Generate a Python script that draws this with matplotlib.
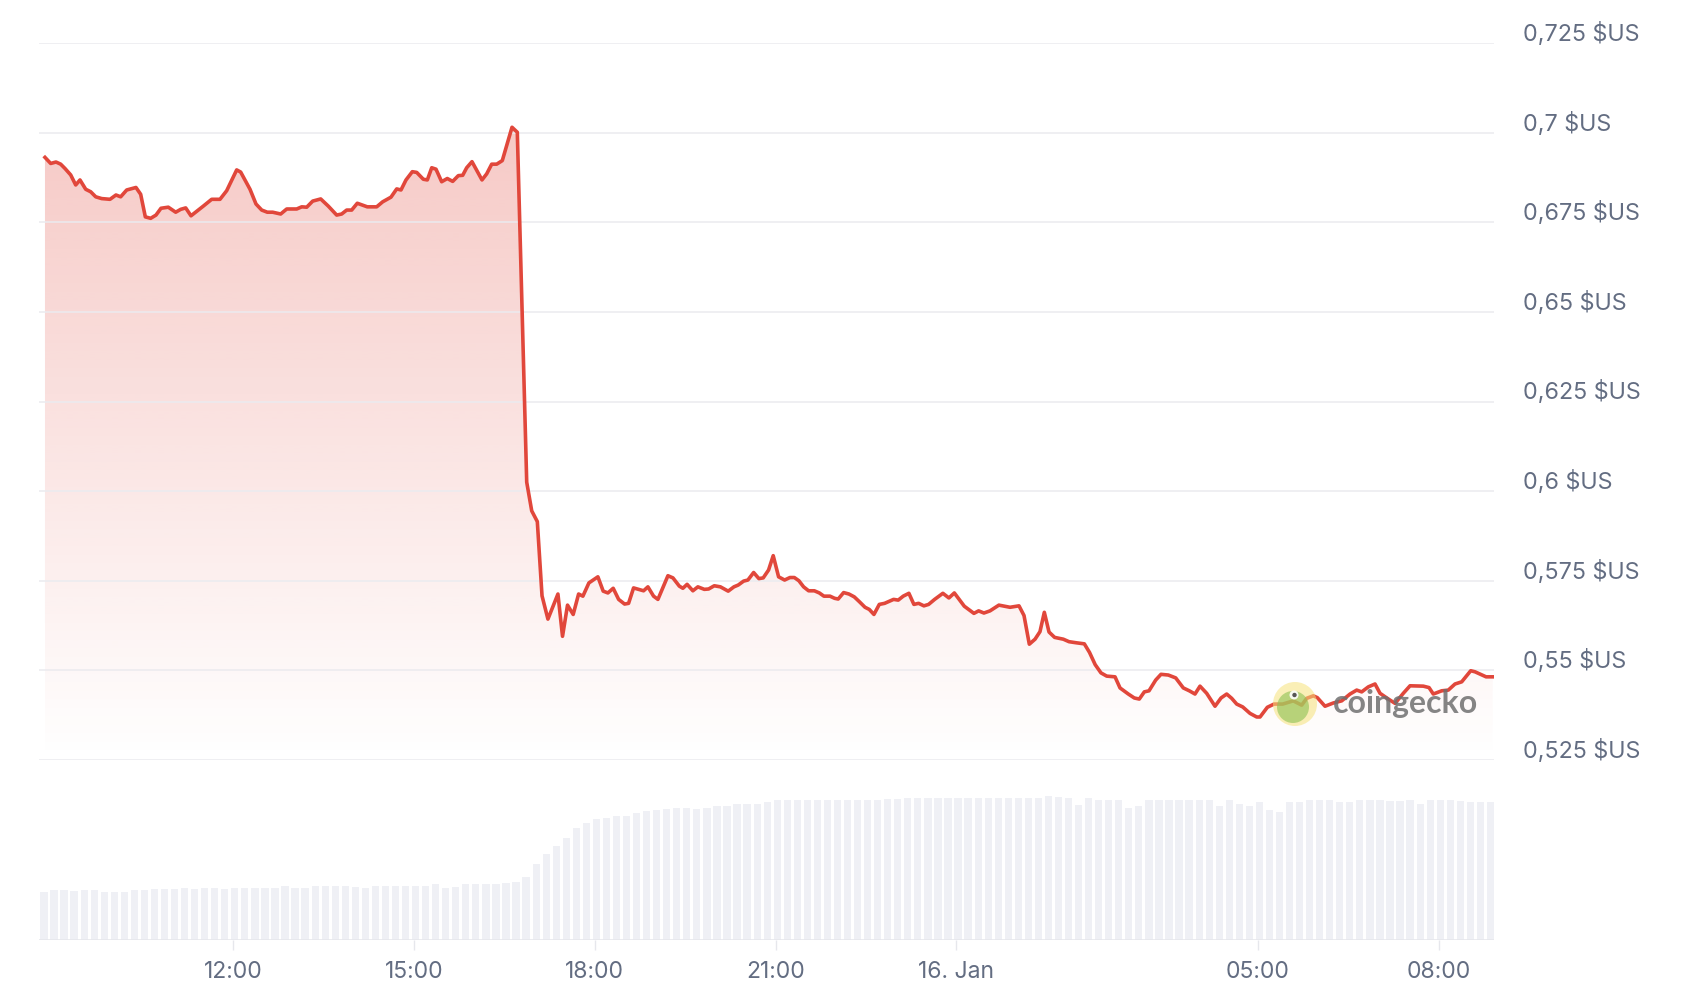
import numpy as np
import matplotlib.pyplot as plt
import matplotlib.colors as mcolors
from matplotlib.patches import Circle
from matplotlib.transforms import ScaledTranslation

# prix (heures depuis le 15 janv. 00:00)
heures = [8.877, 8.972, 9.060, 9.138, 9.209, 9.304, 9.387, 9.458, 9.553, 9.636,
          9.719, 9.818, 9.956, 10.055, 10.133, 10.233, 10.387, 10.465, 10.542, 10.631,
          10.719, 10.802, 10.923, 11.046, 11.129, 11.212, 11.300, 11.504, 11.643, 11.781,
          11.892, 12.058, 12.124, 12.279, 12.378, 12.473, 12.566, 12.655, 12.788, 12.888,
          13.054, 13.137, 13.220, 13.319, 13.452, 13.578, 13.717, 13.800, 13.883, 13.966,
          14.059, 14.225, 14.381, 14.480, 14.618, 14.713, 14.784, 14.867, 14.972, 15.045,
          15.154, 15.221, 15.294, 15.365, 15.459, 15.552, 15.642, 15.735, 15.808, 15.874,
          15.962, 16.128, 16.206, 16.289, 16.372, 16.465, 16.626, 16.714, 16.870, 16.953,
          17.046, 17.124, 17.222, 17.388, 17.464, 17.547, 17.641, 17.731, 17.802, 17.902,
          18.051, 18.139, 18.217, 18.305, 18.395, 18.494, 18.560, 18.643, 18.809, 18.881,
          18.975, 19.047, 19.213, 19.296, 19.402, 19.461, 19.531, 19.627, 19.710, 19.817,
          19.888, 19.982, 20.084, 20.213, 20.308, 20.379, 20.469, 20.540, 20.635, 20.722,
          20.794, 20.883, 20.960, 21.049, 21.149, 21.238, 21.310, 21.386, 21.464, 21.547,
          21.642, 21.725, 21.801, 21.902, 21.979, 22.038, 22.128, 22.216, 22.305, 22.393,
          22.483, 22.554, 22.631, 22.720, 22.808, 22.957, 23.034, 23.117, 23.211, 23.294,
          23.372, 23.460, 23.538, 23.638, 23.775, 23.875, 23.965, 24.130, 24.290, 24.368,
          24.456, 24.557, 24.704, 24.889, 25.038, 25.121, 25.209, 25.304, 25.386, 25.458,
          25.536, 25.629, 25.773, 25.868, 25.987, 26.122, 26.208, 26.302, 26.398, 26.493,
          26.631, 26.714, 26.852, 26.951, 27.034, 27.117, 27.195, 27.306, 27.394, 27.515,
          27.638, 27.764, 27.864, 27.958, 28.041, 28.152, 28.290, 28.390, 28.484, 28.567,
          28.650, 28.750, 28.871, 28.982, 29.037, 29.158, 29.269, 29.413, 29.589, 29.728,
          29.811, 29.921, 29.987, 30.115, 30.253, 30.392, 30.530, 30.641, 30.724, 30.834,
          30.945, 31.028, 31.149, 31.277, 31.414, 31.526, 31.746, 31.841, 31.912, 32.051,
          32.161, 32.272, 32.383, 32.533, 32.604, 32.787, 32.898]

prix = [0.6931, 0.6914, 0.6918, 0.6912, 0.6900, 0.6882, 0.6854, 0.6868, 0.6842, 0.6835,
        0.6821, 0.6816, 0.6814, 0.6826, 0.6821, 0.6840, 0.6847, 0.6828, 0.6765, 0.6761,
        0.6770, 0.6789, 0.6792, 0.6778, 0.6786, 0.6790, 0.6768, 0.6795, 0.6814, 0.6814,
        0.6838, 0.6896, 0.6890, 0.6842, 0.6801, 0.6784, 0.6778, 0.6778, 0.6773, 0.6787,
        0.6787, 0.6793, 0.6792, 0.6809, 0.6815, 0.6795, 0.6770, 0.6773, 0.6784, 0.6784,
        0.6803, 0.6793, 0.6793, 0.6807, 0.6820, 0.6843, 0.6840, 0.6868, 0.6891, 0.6889,
        0.6870, 0.6868, 0.6902, 0.6898, 0.6863, 0.6872, 0.6864, 0.6880, 0.6881, 0.6902,
        0.6919, 0.6868, 0.6885, 0.6912, 0.6912, 0.6922, 0.7015, 0.7001, 0.6025, 0.5945,
        0.5915, 0.5708, 0.5643, 0.5713, 0.5595, 0.5682, 0.5656, 0.5713, 0.5707, 0.5744,
        0.5761, 0.5721, 0.5716, 0.5729, 0.5698, 0.5685, 0.5687, 0.5730, 0.5722, 0.5733,
        0.5707, 0.5698, 0.5764, 0.5758, 0.5735, 0.5729, 0.5740, 0.5722, 0.5733, 0.5726,
        0.5727, 0.5736, 0.5733, 0.5721, 0.5733, 0.5738, 0.5749, 0.5752, 0.5773, 0.5756,
        0.5758, 0.5780, 0.5820, 0.5761, 0.5752, 0.5759, 0.5759, 0.5750, 0.5733, 0.5722,
        0.5722, 0.5716, 0.5707, 0.5707, 0.5701, 0.5699, 0.5717, 0.5713, 0.5705, 0.5691,
        0.5676, 0.5670, 0.5656, 0.5684, 0.5687, 0.5698, 0.5696, 0.5707, 0.5715, 0.5684,
        0.5687, 0.5680, 0.5684, 0.5698, 0.5715, 0.5702, 0.5716, 0.5679, 0.5659, 0.5666,
        0.5660, 0.5666, 0.5682, 0.5676, 0.5680, 0.5653, 0.5573, 0.5587, 0.5608, 0.5662,
        0.5607, 0.5592, 0.5587, 0.5580, 0.5577, 0.5574, 0.5550, 0.5516, 0.5493, 0.5484,
        0.5482, 0.5451, 0.5434, 0.5423, 0.5420, 0.5440, 0.5443, 0.5473, 0.5489, 0.5487,
        0.5479, 0.5451, 0.5443, 0.5434, 0.5456, 0.5436, 0.5400, 0.5423, 0.5434, 0.5422,
        0.5406, 0.5398, 0.5380, 0.5370, 0.5370, 0.5397, 0.5406, 0.5406, 0.5415, 0.5403,
        0.5422, 0.5429, 0.5424, 0.5400, 0.5409, 0.5415, 0.5434, 0.5445, 0.5440, 0.5454,
        0.5462, 0.5436, 0.5422, 0.5408, 0.5436, 0.5457, 0.5456, 0.5452, 0.5434, 0.5443,
        0.5445, 0.5462, 0.5468, 0.5499, 0.5496, 0.5482, 0.5482]

# volume, une barre toutes les 10 minutes (unites relatives)
vol_debut = 8.80
volume = [48, 50, 50, 49, 50, 50, 48, 48.5, 48.5, 50, 50, 51, 51, 51, 52, 51, 52, 52, 51, 52,
          52, 52, 52, 52, 54, 52, 52, 54, 54, 54, 54, 53, 52, 54, 54, 54, 54, 54, 54, 56,
          52, 53, 56, 56,
          56, 56, 57, 58, 63, 76, 86, 94, 102, 112, 117, 121, 122, 124, 124, 127, 129, 130, 131, 132,
          132, 131, 132, 134, 134,
          136, 136, 136, 138, 140, 140, 140, 140, 140, 140, 140, 140, 140, 140, 140, 141, 141,
          142, 142, 142, 142, 142, 142, 142, 142, 142, 142, 142, 142, 142, 142,
          144, 143, 142, 135, 142, 140, 140, 140, 132, 134, 140, 140, 140, 140, 140, 140, 140,
          134, 140, 136, 134, 138, 130, 128, 138,
          138, 140, 140, 140, 138, 138, 140, 140, 140, 139, 139, 140, 136, 140, 140, 140, 139,
          138, 138, 138]

ticks_x = [12, 15, 18, 21, 24, 29, 32]
noms_x = ['12:00', '15:00', '18:00', '21:00', '16. Jan', '05:00', '08:00']
ticks_y = [0.525, 0.55, 0.575, 0.6, 0.625, 0.65, 0.675, 0.7, 0.725]
noms_y = ['0,525 $US', '0,55 $US', '0,575 $US', '0,6 $US', '0,625 $US',
          '0,65 $US', '0,675 $US', '0,7 $US', '0,725 $US']

cor = '#e1473b'
cinza = '#636d82'
W, H = 1688, 1006
xlim = (8.778, 32.919)

plt.rcParams['font.family'] = ['Inter', 'DejaVu Sans']
fig = plt.figure(figsize=(W / 100, H / 100), dpi=100)

# prix
ax = fig.add_axes([39 / W, 1 - 760 / H, 1455 / W, 717 / H])
ax.patch.set_alpha(0)
for s in ax.spines.values():
    s.set_visible(False)

grad = np.zeros((256, 1, 4))
grad[:, :, :3] = mcolors.to_rgb(cor)
grad[:, 0, 3] = np.linspace(0.33, 0.0, 256)
im = ax.imshow(grad, aspect='auto', extent=[xlim[0], xlim[1], 0.525, 0.725],
               origin='upper', zorder=1, interpolation='bilinear')
poly = ax.fill_between(heures, prix, 0.525, facecolor='none', edgecolor='none')
im.set_clip_path(poly.get_paths()[0], transform=ax.transData)

ax.plot(heures, prix, color=cor, lw=2.6, solid_joinstyle='round', zorder=3)

ax.set_xlim(*xlim)
ax.set_ylim(0.525, 0.725)
ax.set_yticks(ticks_y)
ax.set_yticklabels(noms_y)
ax.yaxis.tick_right()
ax.tick_params(axis='y', length=0, pad=21, labelsize=16.8, labelcolor=cinza)
decale = ScaledTranslation(0, 0.115, fig.dpi_scale_trans)
for lab in ax.get_yticklabels():
    lab.set_transform(lab.get_transform() + decale)
ax.set_xticks([])
ax.grid(axis='y', color='#ebebef', lw=1.1, zorder=0)

# volume
axv = fig.add_axes([39 / W, 1 - 940 / H, 1455 / W, 180 / H])
axv.patch.set_alpha(0)
for s in axv.spines.values():
    s.set_visible(False)
pas = 1 / 6
tv = vol_debut + pas * np.arange(len(volume))
axv.bar(tv, volume, width=pas * 0.72, align='edge', color='#eff0f5', zorder=1)
axv.axhline(0, color='#e6e7ec', lw=1.2, zorder=2)
axv.set_xlim(*xlim)
axv.set_ylim(0, 180)
axv.set_yticks([])
axv.set_xticks(ticks_x)
axv.set_xticklabels(noms_x)
axv.tick_params(axis='x', length=7, width=1, color='#e6e7ec', pad=8,
                labelsize=16.5, labelcolor=cinza)

# filigrane coingecko
tr = fig.dpi_scale_trans
fig.patches.append(Circle((12.95, 3.02), 0.22, transform=tr, facecolor='#f6e27a',
                          alpha=0.55, edgecolor='none', zorder=5))
fig.patches.append(Circle((12.93, 2.99), 0.16, transform=tr, facecolor='#8cc152',
                          alpha=0.6, edgecolor='none', zorder=6))
fig.patches.append(Circle((12.94, 3.11), 0.045, transform=tr, facecolor='white',
                          alpha=0.9, edgecolor='none', zorder=7))
fig.patches.append(Circle((12.945, 3.11), 0.022, transform=tr, facecolor='#444444',
                          alpha=0.9, edgecolor='none', zorder=8))
fig.text(1333 / W, 1 - 704 / H, 'coingecko', ha='left', va='center', fontsize=23,
         fontweight='bold', family=['Lato', 'DejaVu Sans'], color='#707070', alpha=0.85)

fig.savefig('out.png', dpi=100, facecolor='white')
